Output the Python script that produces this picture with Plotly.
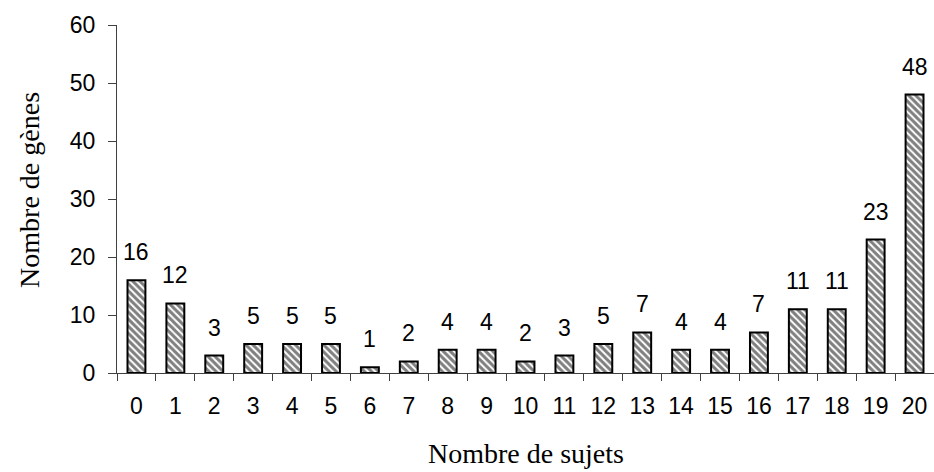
import plotly.graph_objects as go

sujets = [str(i) for i in range(21)]
genes = [16, 12, 3, 5, 5, 5, 1, 2, 4, 4, 2, 3, 5, 7, 4, 4, 7, 11, 11, 23, 48]

SANS = "Liberation Sans, Arial"
SERIF = "Liberation Serif, Times New Roman"

fig = go.Figure(go.Bar(
    x=sujets, y=genes,
    width=0.46,
    marker=dict(color="white", line=dict(color="black", width=2),
                pattern=dict(shape="\\", fgcolor="black", bgcolor="white", size=5, solidity=0.6)),
))

for s, g in zip(sujets, genes):
    fig.add_annotation(x=s, y=g, text=str(g), showarrow=False, yanchor="bottom",
                       yshift=13, font=dict(family=SANS, size=23, color="black"))

fig.add_annotation(xref="paper", yref="paper", x=0.5, y=-0.232, yanchor="middle",
                   text="Nombre de sujets", showarrow=False,
                   font=dict(family=SERIF, size=28, color="black"))
fig.add_annotation(xref="paper", yref="paper", x=-0.107, y=0.525, xanchor="center", yanchor="middle",
                   text="Nombre de gènes", textangle=-90, showarrow=False,
                   font=dict(family=SERIF, size=28, color="black"))

fig.update_layout(
    width=934, height=472,
    margin=dict(l=117, r=0, t=25, b=99),
    plot_bgcolor="white", paper_bgcolor="white",
    showlegend=False,
)
fig.update_xaxes(
    type="category", range=[-0.5, 20.5], automargin=False,
    showline=True, linecolor="#404040", linewidth=1,
    ticks="outside", tickson="boundaries", ticklen=7, tickcolor="#404040",
    tickfont=dict(family=SANS, size=23, color="black"), ticklabelstandoff=12,
    showgrid=False,
)
fig.update_yaxes(
    range=[0, 60], dtick=10, automargin=False,
    showline=True, linecolor="#404040", linewidth=1,
    ticks="outside", ticklen=8, tickcolor="#404040",
    tickfont=dict(family=SANS, size=23, color="black"), ticklabelstandoff=8,
    showgrid=False, zeroline=False,
)

fig.write_html("out.html", config={"displayModeBar": False},
               post_script="document.body.style.margin='0';")
